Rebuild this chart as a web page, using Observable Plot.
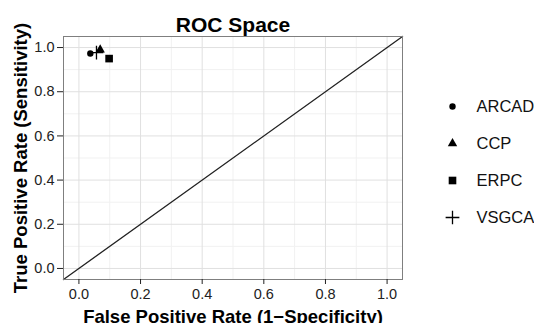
<!DOCTYPE html>
<html>
<head>
<meta charset="utf-8">
<script src="https://cdn.jsdelivr.net/npm/d3@7"></script>
<script src="https://cdn.jsdelivr.net/npm/@observablehq/plot@0.6"></script>
<style>
  html, body { margin: 0; padding: 0; background: #fff; }
  #wrap { position: relative; width: 534px; height: 323px; overflow: hidden; }
  #wrap svg { position: absolute; left: 0; top: 0; }
</style>
</head>
<body>
<div id="wrap"></div>
<script>
// ---- data ----
const methods = ["ARCAD", "CCP", "ERPC", "VSGCA"];
const fpr = [0.037, 0.069, 0.098, 0.057];
const tpr = [0.973, 0.990, 0.950, 0.977];
const symbolsList = ["circle", "triangle", "square", "plus"];
const majorTicks = [0, 0.2, 0.4, 0.6, 0.8, 1.0];
const minorTicks = [0.1, 0.3, 0.5, 0.7, 0.9];
const axisDomain = [-0.05, 1.05];
const titleText = "ROC Space";
const xLabel = "False Positive Rate (1\u2212Specificity)";
const yLabel = "True Positive Rate (Sensitivity)";

// ---- styles (not data) ----
const FONT = "'Liberation Sans', Arial, Helvetica, sans-serif";
const symbolStyle = {
  circle:   {fill: "#000", stroke: "none", r: 3.2},
  triangle: {fill: "#000", stroke: "none", r: 3.5},
  square:   {fill: "#000", stroke: "none", r: 4.3},
  plus:     {fill: "none", stroke: "#000", strokeWidth: 1.3, r: 4.5}
};

const points = methods.map((m, i) => ({method: m, x: fpr[i], y: tpr[i]}));
const diagonal = axisDomain.map(v => ({x: v, y: v}));
const symOf = m => symbolsList[methods.indexOf(m)];

function symbolMarks(data, opts) {
  return symbolsList.map(s => Plot.dot(
    data.filter(d => symOf(opts.key(d)) === s),
    {...opts.channels, symbol: d => opts.key(d), ...symbolStyle[s]}
  ));
}

const chart = Plot.plot({
  width: 534,
  height: 323,
  marginLeft: 63,
  marginRight: 132,
  marginTop: 36,
  marginBottom: 44,
  style: {fontFamily: FONT, color: "#222", background: "transparent", overflow: "visible"},
  x: {domain: axisDomain},
  y: {domain: axisDomain},
  symbol: {domain: methods, range: symbolsList},
  marks: [
    Plot.gridX(minorTicks, {stroke: "#f1f1f1", strokeOpacity: 1, strokeWidth: 1}),
    Plot.gridY(minorTicks, {stroke: "#f1f1f1", strokeOpacity: 1, strokeWidth: 1}),
    Plot.gridX(majorTicks, {stroke: "#e0e0e0", strokeOpacity: 1, strokeWidth: 1}),
    Plot.gridY(majorTicks, {stroke: "#e0e0e0", strokeOpacity: 1, strokeWidth: 1}),
    Plot.line(diagonal, {x: "x", y: "y", stroke: "#222", strokeWidth: 1.3}),
    Plot.frame({stroke: "#7f7f7f", strokeWidth: 1}),
    Plot.axisX(majorTicks, {tickSize: 5, tickPadding: 4, tickFormat: d3.format(".1f"), fontSize: 14.5, label: null, stroke: "#222"}),
    Plot.axisY(majorTicks, {tickSize: 6, tickPadding: 3, tickFormat: d3.format(".1f"), fontSize: 14.5, label: null, stroke: "#222"}),
    ...symbolMarks(points, {key: d => d.method, channels: {x: "x", y: "y"}}),
    Plot.text([titleText], {frameAnchor: "top", lineAnchor: "bottom", dy: -5, fontSize: 21, fontWeight: "bold", fill: "#000"}),
    Plot.text([xLabel], {frameAnchor: "bottom", lineAnchor: "bottom", dy: 43, fontSize: 18.5, fontWeight: "bold", fill: "#000"}),
    Plot.text([yLabel], {frameAnchor: "left", textAnchor: "middle", lineAnchor: "bottom", rotate: -90, dx: -37, fontSize: 18.5, fontWeight: "bold", fill: "#000"})
  ]
});
document.getElementById("wrap").appendChild(chart);

// ---- legend (drawn with Plot as a second layer) ----
const legend = Plot.plot({
  width: 534,
  height: 323,
  margin: 0,
  style: {fontFamily: FONT, background: "transparent", overflow: "visible"},
  x: {type: "point", domain: ["symbol", "label"], range: [452, 476], padding: 0, axis: null},
  y: {type: "point", domain: methods, range: [105.5, 218], padding: 0, axis: null},
  symbol: {domain: methods, range: symbolsList},
  marks: [
    ...symbolMarks(methods, {key: d => d, channels: {x: () => "symbol", y: d => d}}),
    Plot.text(methods, {x: () => "label", y: d => d, text: d => d, textAnchor: "start", fontSize: 16.5, fill: "#111"})
  ]
});
document.getElementById("wrap").appendChild(legend);
</script>
</body>
</html>
